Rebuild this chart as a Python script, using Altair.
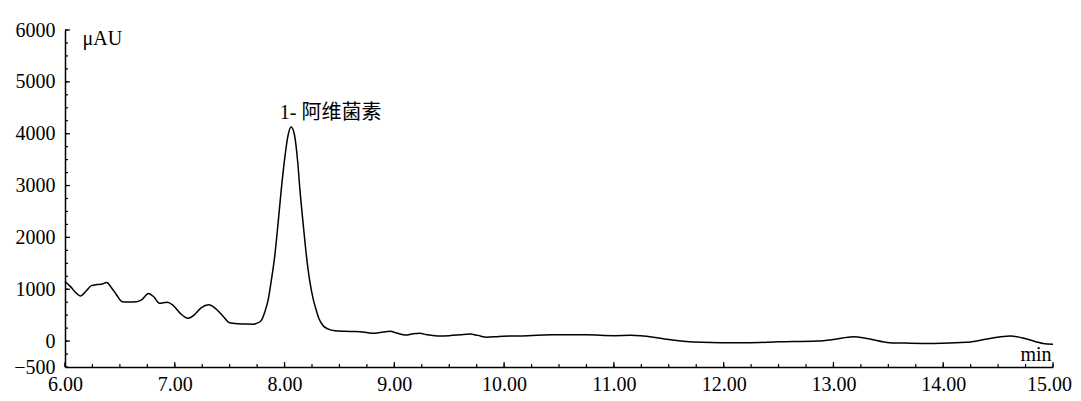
import altair as alt
import numpy as np
import pandas as pd

# chromatogram trace (retention time in min, signal in μAU)
time = [6.00, 6.05, 6.10, 6.14, 6.19, 6.24, 6.29, 6.33, 6.38, 6.42, 6.47, 6.52, 6.58, 6.65,
        6.70, 6.76, 6.81, 6.86, 6.93, 6.98, 7.05, 7.12, 7.18, 7.24, 7.31, 7.37, 7.44, 7.50,
        7.57, 7.64, 7.71, 7.75, 7.79, 7.82, 7.85, 7.88, 7.91, 7.94, 7.97, 8.00, 8.03, 8.06,
        8.09, 8.12, 8.14, 8.17, 8.20, 8.23, 8.26, 8.28, 8.31, 8.35, 8.40, 8.46, 8.55, 8.62,
        8.69, 8.76, 8.82, 8.90, 8.96, 9.03, 9.10, 9.17, 9.23, 9.30, 9.39, 9.50, 9.60, 9.69,
        9.76, 9.84, 9.95, 10.14, 10.44, 10.75, 11.00, 11.15, 11.36, 11.50, 11.66, 11.80,
        11.97, 12.24, 12.50, 12.85, 13.00, 13.18, 13.32, 13.51, 13.70, 13.91, 14.21, 14.40,
        14.61, 14.76, 14.91, 15.00]
signal = [1150, 1050, 930, 870, 960, 1070, 1090, 1095, 1130, 1040, 890, 760, 755, 760,
          800, 920, 850, 730, 750, 700, 535, 440, 510, 640, 700, 630, 480, 355,
          335, 330, 325, 345, 405, 560, 790, 1180, 1630, 2250, 2920, 3500, 3950, 4130,
          3980, 3450, 2920, 2250, 1630, 1150, 820, 660, 450, 300, 230, 200, 190, 185,
          180, 160, 150, 175, 190, 150, 115, 140, 150, 120, 100, 105, 120, 135,
          110, 75, 90, 100, 120, 120, 105, 110, 75, 30, -10, -25,
          -30, -30, -15, 0, 30, 85, 45, -30, -40, -45, -25, 40,
          100, 40, -45, -60]

# axis tick labels
x_ticks = [6, 7, 8, 9, 10, 11, 12, 13, 14, 15]
y_ticks = [-500, 0, 1000, 2000, 3000, 4000, 5000, 6000]
x_minor = list(np.arange(6.0, 15.001, 0.25))
y_minor = list(np.arange(-500, 6001, 250))

# peak annotation
peak_label = ["1- 阿维菌素"]
peak_time = [8.42]
peak_signal = [4280]

W, H = 988, 337
FONT = "Liberation Serif"

trace = pd.DataFrame({"time": time, "signal": signal})
xt_minor = pd.DataFrame({"t": x_minor})
xt_major = pd.DataFrame({"t": [float(v) for v in x_ticks]})
yt_minor = pd.DataFrame({"v": y_minor})
yt_major = pd.DataFrame({"v": [v for v in y_ticks if v % 1000 == 0]})
ann = pd.DataFrame({"label": peak_label, "time": peak_time, "signal": peak_signal})

xs = alt.Scale(domain=[6, 15], nice=False, zero=False)
ys = alt.Scale(domain=[-500, 6000], nice=False, zero=False)

x_axis = alt.Axis(values=x_ticks, format=".2f", title="min", titleAngle=0,
                  titleX=986, titleY=-7, titleAlign="right", titleBaseline="alphabetic",
                  titleFont=FONT, titleFontSize=20, titleFontWeight="normal", titleColor="black",
                  labelFlush=False, labelPadding=7, labelBaseline="top",
                  labelOffset={"expr": "datum.value == 15 ? -4 : 0"})
y_axis = alt.Axis(values=y_ticks, format="d", title="μAU", titleAngle=0,
                  titleX=17, titleY=14, titleAlign="left", titleBaseline="alphabetic",
                  titleFont=FONT, titleFontSize=20, titleFontWeight="normal", titleColor="black",
                  labelPadding=10, labelBaseline="middle")

line = alt.Chart(trace).mark_line(color="black", strokeWidth=1.5, interpolate="monotone").encode(
    x=alt.X("time:Q", scale=xs, axis=x_axis),
    y=alt.Y("signal:Q", scale=ys, axis=y_axis),
)

xminor = alt.Chart(xt_minor).mark_rule(color="black", strokeWidth=1.2).encode(
    x=alt.X("t:Q", scale=xs, axis=x_axis), y=alt.value(H), y2=alt.value(H - 3))
xmajor = alt.Chart(xt_major).mark_rule(color="black", strokeWidth=1.2).encode(
    x=alt.X("t:Q", scale=xs, axis=x_axis), y=alt.value(H), y2=alt.value(H - 5))
yminor = alt.Chart(yt_minor).mark_rule(color="black", strokeWidth=1.2).encode(
    y=alt.Y("v:Q", scale=ys, axis=y_axis), x=alt.value(0), x2=alt.value(3))
ymajor = alt.Chart(yt_major).mark_rule(color="black", strokeWidth=1.2).encode(
    y=alt.Y("v:Q", scale=ys, axis=y_axis), x=alt.value(0), x2=alt.value(5))

text = alt.Chart(ann).mark_text(font="Liberation Serif, Noto Sans CJK SC", fontSize=20,
                                color="black", align="center", baseline="alphabetic").encode(
    x=alt.X("time:Q", scale=xs, axis=x_axis),
    y=alt.Y("signal:Q", scale=ys, axis=y_axis),
    text="label:N",
)

chart = alt.layer(line, xminor, xmajor, yminor, ymajor, text).properties(
    width=W, height=H,
    autosize=alt.AutoSizeParams(type="none"),
    padding={"left": 57, "top": 22, "right": 20, "bottom": 26},
    background="white",
).configure_view(stroke=None).configure_axis(
    grid=False, ticks=False, domainColor="black", domainWidth=1.5,
    labelFont=FONT, labelFontSize=20, labelColor="black",
)

chart.save("out.html", embed_options={"renderer": "svg", "actions": False})
